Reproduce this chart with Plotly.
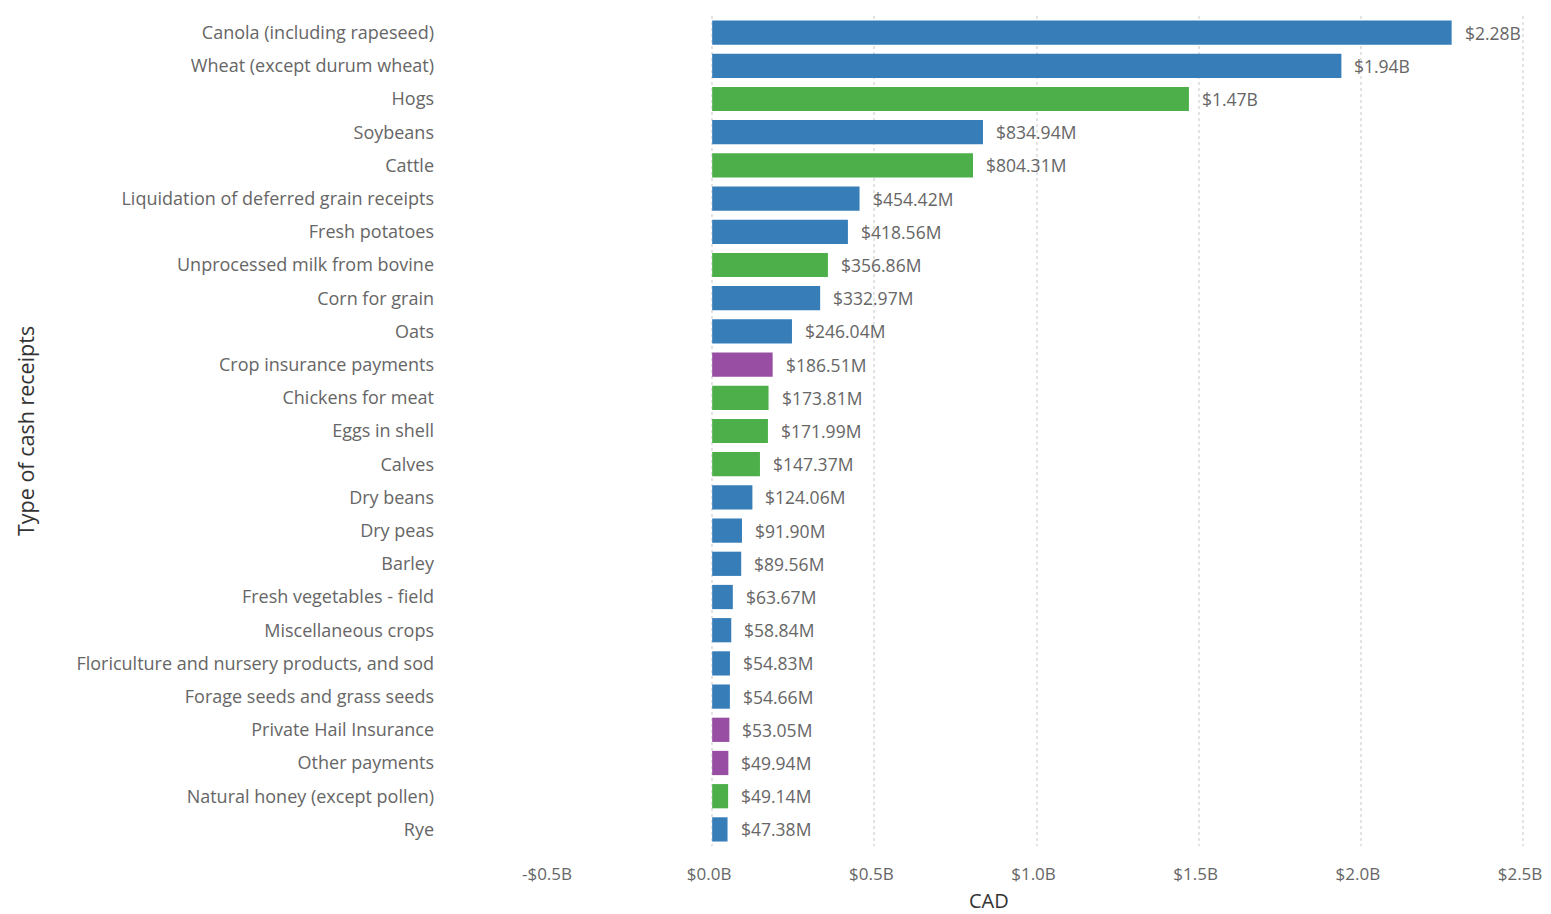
import plotly.graph_objects as go

categories = [
    "Canola (including rapeseed)", "Wheat (except durum wheat)", "Hogs", "Soybeans", "Cattle",
    "Liquidation of deferred grain receipts", "Fresh potatoes", "Unprocessed milk from bovine",
    "Corn for grain", "Oats", "Crop insurance payments", "Chickens for meat", "Eggs in shell",
    "Calves", "Dry beans", "Dry peas", "Barley", "Fresh vegetables - field", "Miscellaneous crops",
    "Floriculture and nursery products, and sod", "Forage seeds and grass seeds",
    "Private Hail Insurance", "Other payments", "Natural honey (except pollen)", "Rye",
]
values_cad = [
    2.28e9, 1.94e9, 1.47e9, 834.94e6, 804.31e6, 454.42e6, 418.56e6, 356.86e6, 332.97e6,
    246.04e6, 186.51e6, 173.81e6, 171.99e6, 147.37e6, 124.06e6, 91.90e6, 89.56e6, 63.67e6,
    58.84e6, 54.83e6, 54.66e6, 53.05e6, 49.94e6, 49.14e6, 47.38e6,
]
value_labels = [
    "$2.28B", "$1.94B", "$1.47B", "$834.94M", "$804.31M", "$454.42M", "$418.56M", "$356.86M",
    "$332.97M", "$246.04M", "$186.51M", "$173.81M", "$171.99M", "$147.37M", "$124.06M",
    "$91.90M", "$89.56M", "$63.67M", "$58.84M", "$54.83M", "$54.66M", "$53.05M", "$49.94M",
    "$49.14M", "$47.38M",
]
groups = [
    "crop", "crop", "livestock", "crop", "livestock", "crop", "crop", "livestock", "crop",
    "crop", "payment", "livestock", "livestock", "livestock", "crop", "crop", "crop", "crop",
    "crop", "crop", "crop", "payment", "payment", "livestock", "crop",
]
group_colors = {"crop": "#377eb8", "livestock": "#4daf4a", "payment": "#984ea3"}
tick_values = [-0.5e9, 0, 0.5e9, 1.0e9, 1.5e9, 2.0e9, 2.5e9]
tick_labels = ["-$0.5B", "$0.0B", "$0.5B", "$1.0B", "$1.5B", "$2.0B", "$2.5B"]

FONT = "Open Sans"

fig = go.Figure(go.Bar(
    x=values_cad, y=categories, orientation="h",
    marker=dict(color=[group_colors[g] for g in groups], line=dict(width=0)),
    width=0.73,
    hoverinfo="x+y",
))

for cat, val, lab in zip(categories, values_cad, value_labels):
    fig.add_annotation(
        x=val, y=cat, xref="x", yref="y", text=lab, showarrow=False,
        xanchor="left", yanchor="middle", xshift=11,
        font=dict(family=FONT, size=17.5, color="#666666"),
    )

fig.add_annotation(
    text="Type of cash receipts", textangle=-90, showarrow=False,
    xref="paper", yref="paper", x=(25 - 550) / 978, y=0.5,
    xanchor="center", yanchor="middle",
    font=dict(family=FONT, size=21.5, color="#333333"),
)
fig.add_annotation(
    text="CAD", showarrow=False,
    xref="paper", yref="paper", x=(989 - 550) / 978, y=(846 - 900) / 830,
    xanchor="center", yanchor="middle",
    font=dict(family=FONT, size=20, color="#333333"),
)

fig.update_layout(
    width=1535, height=906,
    margin=dict(l=542, r=15, t=8, b=68, autoexpand=False),
    paper_bgcolor="white", plot_bgcolor="white",
    showlegend=False,
    font=dict(family=FONT, size=16, color="#666666"),
)
fig.update_xaxes(
    range=[-0.5e9, 2.5154e9], tickvals=tick_values, ticktext=tick_labels,
    showgrid=True, gridcolor="#e3e3e3", griddash="dot", gridwidth=1.5,
    zeroline=False, ticks="", ticklabelstandoff=16, automargin=False,
    ticklabeloverflow="allow", ticklabelshift=-3,
    tickfont=dict(family=FONT, size=17, color="#666666"),
)
fig.update_yaxes(
    autorange="reversed", showgrid=False, ticks="", ticklabelstandoff=115,
    automargin=False,
    tickfont=dict(family=FONT, size=18, color="#666666"),
)

fig.write_html("out.html")
